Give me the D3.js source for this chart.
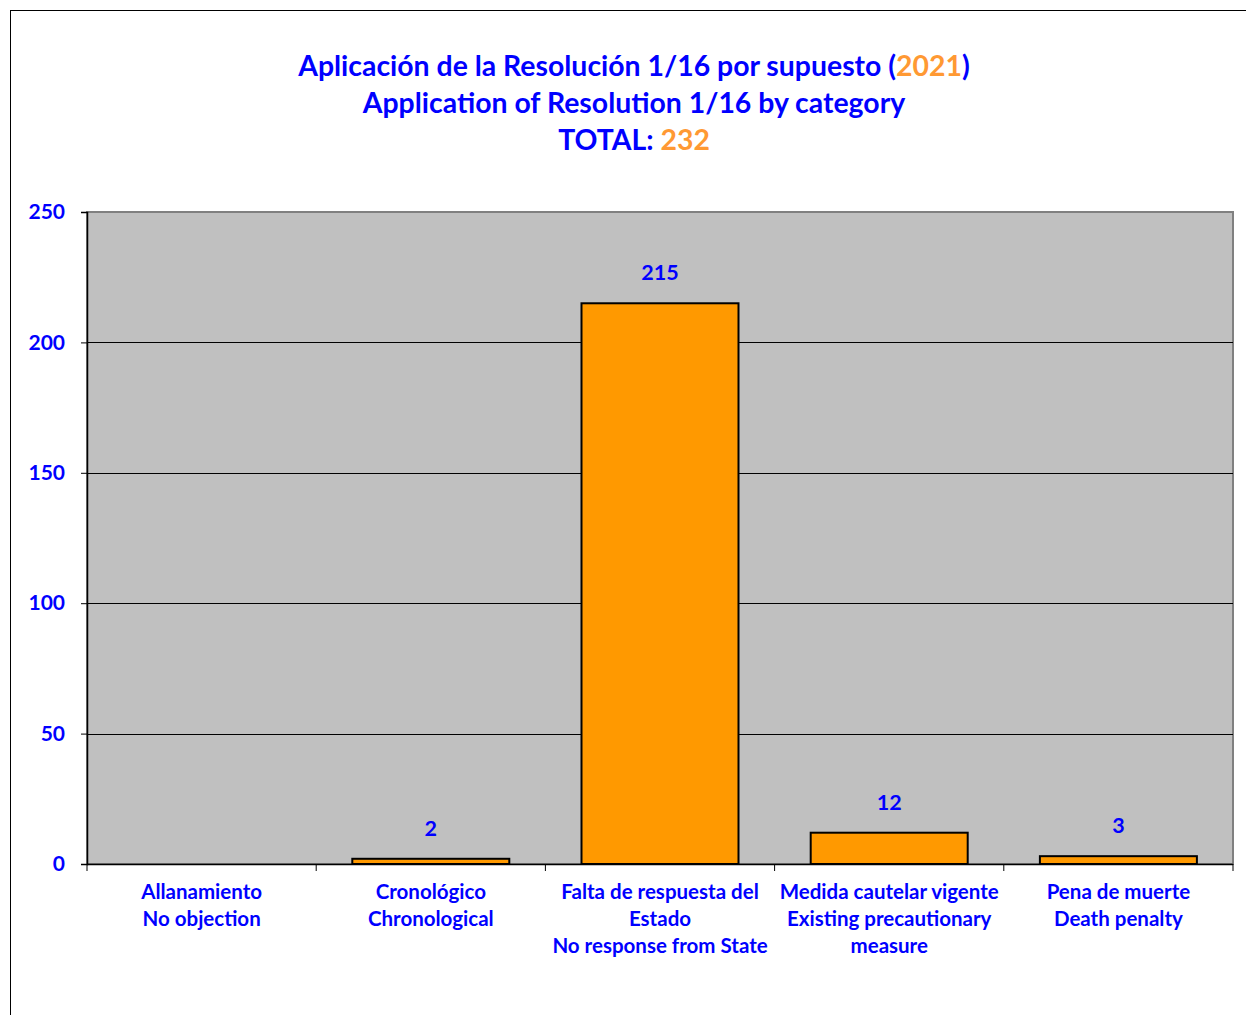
<!DOCTYPE html>
<html>
<head>
<meta charset="utf-8">
<script src="https://cdn.jsdelivr.net/npm/d3@7"></script>
<style>
  body { margin: 0; background: #fff; }
  text { font-family: Lato, "Open Sans", sans-serif; font-weight: bold; }
</style>
</head>
<body>
<svg width="1246" height="1015"></svg>
<script>
const categories = [
    ["Allanamiento", "No objection"],
    ["Cronológico", "Chronological"],
    ["Falta de respuesta del", "Estado", "No response from State"],
    ["Medida cautelar vigente", "Existing precautionary", "measure"],
    ["Pena de muerte", "Death penalty"]
];
const values = [0, 2, 215, 12, 3];
const yTicks = [0, 50, 100, 150, 200, 250];
const year = "2021";
const total = 232;

const svg = d3.select("svg");
const blue = "#0000ff";
const orange = "#ff9900";

// outer frame
svg.append("rect")
    .attr("x", 10.5).attr("y", 10.5)
    .attr("width", 1260).attr("height", 1030)
    .attr("fill", "#fff").attr("stroke", "#000");

const pLeft = 87, pRight = 1233, pTop = 212, pBottom = 864;

var x = d3.scaleBand()
    .domain(d3.range(categories.length))
    .range([pLeft, pRight])
    .paddingInner(0.315)
    .paddingOuter(0.1575);

var xb = d3.scaleBand().domain(d3.range(categories.length)).range([pLeft, pRight]);

var y = d3.scaleLinear().domain([0, 250]).range([pBottom, pTop]);

// plot area
svg.append("rect")
    .attr("x", pLeft).attr("y", pTop)
    .attr("width", pRight - pLeft).attr("height", pBottom - pTop)
    .attr("fill", "#c0c0c0")
    .attr("stroke", "#808080").attr("stroke-width", 2);

// gridlines
svg.append("g")
    .selectAll("line")
    .data(yTicks.filter(d => d > 0 && d < 250))
    .enter().append("line")
    .attr("x1", pLeft).attr("x2", pRight)
    .attr("y1", d => Math.round(y(d)) + 0.5).attr("y2", d => Math.round(y(d)) + 0.5)
    .attr("stroke", "#000").attr("stroke-width", 1);

// bars
svg.append("g")
    .selectAll("rect")
    .data(values)
    .enter().append("rect")
    .attr("x", (d, i) => x(i))
    .attr("y", d => y(d))
    .attr("width", x.bandwidth())
    .attr("height", d => y(0) - y(d))
    .attr("fill", orange)
    .attr("stroke", "#000").attr("stroke-width", 2)
    .style("display", d => d > 0 ? null : "none");

// value labels
svg.append("g")
    .selectAll("text")
    .data(values.map((v, i) => ({v, i})).filter(d => d.v > 0))
    .enter().append("text")
    .attr("x", d => x(d.i) + x.bandwidth() / 2)
    .attr("y", d => y(d.v) - 23)
    .attr("text-anchor", "middle")
    .attr("fill", blue)
    .attr("font-size", 21.5)
    .text(d => d.v);

// y axis
var yAxis = svg.append("g")
    .attr("transform", `translate(${pLeft},0)`)
    .call(d3.axisLeft(y).tickValues(yTicks).tickSize(6).tickPadding(16));
yAxis.select(".domain").attr("stroke", "#000").attr("stroke-width", 1.5);
yAxis.selectAll("line").attr("stroke", "#000");
yAxis.selectAll("text")
    .attr("fill", blue)
    .attr("font-size", 21)
    .style("font-family", "Lato, 'Open Sans', sans-serif")
    .style("font-weight", "bold");

// x axis line and ticks at band boundaries
svg.append("line")
    .attr("x1", pLeft).attr("x2", pRight)
    .attr("y1", pBottom + 0.5).attr("y2", pBottom + 0.5)
    .attr("stroke", "#000").attr("stroke-width", 1.5);
svg.append("g")
    .selectAll("line")
    .data(d3.range(categories.length + 1))
    .enter().append("line")
    .attr("x1", i => i < categories.length ? xb(i) : pRight)
    .attr("x2", i => i < categories.length ? xb(i) : pRight)
    .attr("y1", pBottom).attr("y2", pBottom + 7)
    .attr("stroke", "#000");

// category labels
var catText = svg.append("g")
    .selectAll("text")
    .data(categories)
    .enter().append("text")
    .attr("text-anchor", "middle")
    .attr("fill", blue)
    .attr("font-size", 20.5)
    .attr("transform", (d, i) => `translate(${xb(i) + xb.bandwidth() / 2},${pBottom + 35})`);
catText.selectAll("tspan")
    .data(d => d)
    .enter().append("tspan")
    .attr("x", 0)
    .attr("y", (d, i) => i * 27)
    .text(d => d);

// title
const title = svg.append("g").attr("text-anchor", "middle").attr("font-size", 28.4).attr("fill", blue);
var t1 = title.append("text").attr("x", 634).attr("y", 76);
t1.append("tspan").text("Aplicación de la Resolución 1/16 por supuesto (");
t1.append("tspan").attr("fill", "#ff9933").text(year);
t1.append("tspan").text(")");
title.append("text").attr("x", 634).attr("y", 113).text("Application of Resolution 1/16 by category");
var t3 = title.append("text").attr("x", 634).attr("y", 150);
t3.append("tspan").text("TOTAL: ");
t3.append("tspan").attr("fill", "#ff9933").text(total);
</script>
</body>
</html>
